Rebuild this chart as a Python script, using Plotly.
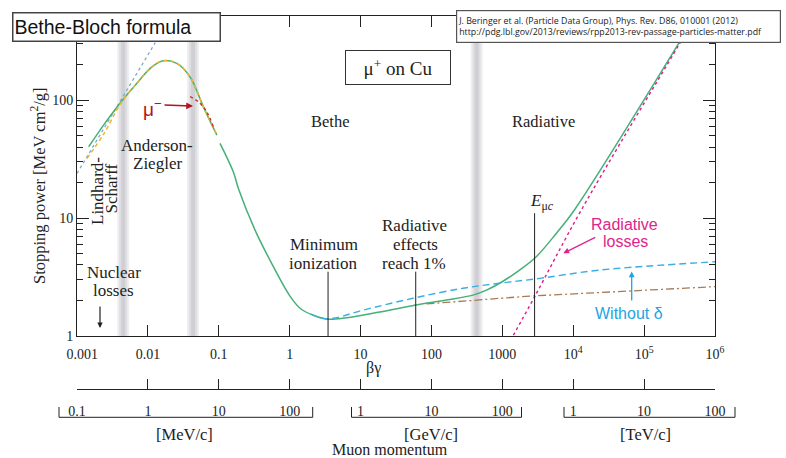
import plotly.graph_objects as go
import math

# ---------------- data ----------------
# total stopping power (green solid), low-energy segment and Bethe/radiative segment
total_lo_bg = [0.00146, 0.00237, 0.00288, 0.0041, 0.007, 0.0108, 0.0159, 0.0256, 0.0394, 0.0607, 0.094]
total_lo_S = [40.2, 61.4, 72, 95, 139, 186, 215, 205, 157, 87.7, 50.5]
total_hi_bg = [0.104, 0.161, 0.189, 0.325, 0.557, 1.0, 1.4, 2.15, 3.4, 6.35, 18.7, 60, 163,
               385, 596, 916, 1750, 3010, 5760, 10400, 297000, 600000]
total_hi_S = [43, 24.5, 17.8, 7.9, 4.13, 2.2, 1.72, 1.5, 1.39, 1.43, 1.6, 1.83, 2.02,
              2.22, 2.45, 2.8, 3.62, 4.7, 7.4, 11.7, 292, 590]
# Anderson-Ziegler (orange dashed)
az_bg = [0.00138, 0.0024, 0.0041, 0.007, 0.0108, 0.0159, 0.0256, 0.0394, 0.0607, 0.094]
az_S = [32, 52, 93, 139, 186, 215, 205, 157, 87.7, 50.5]
# mu- (red dotted)
mum_bg = [0.0394, 0.0516, 0.0677, 0.0838]
mum_S = [107, 96.8, 79.6, 59.4]
# Lindhard-Scharff (blue dotted)
ls_bg = [0.001, 0.0127]
ls_S = [23.9, 307]
# without delta (light blue dashed)
nod_bg = [2.0, 3.5, 10.9, 55, 279, 916, 3360, 23400, 1e6]
nod_S = [1.53, 1.40, 1.66, 2.09, 2.54, 2.80, 3.08, 3.62, 4.26]
# ionization part above radiative-1% (brown dash-dot)
ion_bg = [85, 2430, 1e6]
ion_S = [1.87, 2.18, 2.62]
# radiative losses (magenta dotted)
rad_bg = [1300, 2850, 13000, 300000, 600000]
rad_S = [0.915, 2.15, 11.7, 285, 580]
# vertical marker lines: minimum ionization, radiative effects 1%, E_muc
marker_bg = [3.48, 60, 2850]
marker_top = [3.51, 3.51, 11.0]
# gray boundary bands
band_bg = [0.00449, 0.0434, 434]

bg_ticks = [1e-3, 1e-2, 1e-1, 1, 10, 100, 1000, 1e4, 1e5, 1e6]
bg_ticktext = ["\u00a0\u00a0\u00a00.001", "0.01", "0.1", "1", "10", "100", "1000",
               "10<sup>4</sup>", "10<sup>5</sup>", "10<sup>6</sup>"]
p_ticktext = ["0.1", "1", "10", "100", "1", "10", "100", "1", "10", "100"]
S_ticks = [1, 10, 100]
S_ticktext = ["1", "10", "100"]
S_minor = [k * 10 ** d for d in range(0, 3) for k in range(2, 10) if k * 10 ** d < 515]

# ---------------- geometry ----------------
W, H = 786, 458
ML, MR, MT, MB = 77, 71, 16, 69
PW = W - ML - MR
PH = H - MT - MB
Y0PX = 336
ydom0 = (H - MB - Y0PX) / PH
YLOGMAX = 2.713

def px(x):
    return (x - ML) / PW

def py(y):
    return (H - MB - y) / PH

SERIF = "Liberation Serif"
SANS = "Liberation Sans"
INK = "#222222"
GREEN = "#45b078"

fig = go.Figure()

def line(x, y, color, width=1.4, dash="solid", shape="spline"):
    fig.add_trace(go.Scatter(x=x, y=y, mode="lines", showlegend=False, hoverinfo="skip",
                             line=dict(color=color, width=width, dash=dash, shape=shape)))

line(ls_bg, ls_S, "#7fa9c8", 1.3, "dot", "linear")
line(total_lo_bg, total_lo_S, GREEN, 1.5)
line(total_hi_bg, total_hi_S, GREEN, 1.5)
line(az_bg, az_S, "#e9b52c", 1.5, "4px,3px")
line(mum_bg, mum_S, "#c0392b", 1.4, "dot")
line(nod_bg, nod_S, "#3aaee2", 1.4, "7px,4px")
line(ion_bg, ion_S, "#a87a55", 1.3, "8px,3px,2px,3px", "linear")
line(rad_bg, rad_S, "#e5198a", 1.4, "dot")

for xb, yt in zip(marker_bg, marker_top):
    fig.add_trace(go.Scatter(x=[xb, xb], y=[1, yt], mode="lines", showlegend=False,
                             hoverinfo="skip", line=dict(color=INK, width=1)))

# invisible traces so the momentum axis and minor-tick axis are built
fig.add_trace(go.Scatter(x=[1], y=[1], xaxis="x2", yaxis="y", mode="markers",
                         marker=dict(opacity=0), showlegend=False, hoverinfo="skip"))
fig.add_trace(go.Scatter(x=[1], y=[1], xaxis="x", yaxis="y2", mode="markers",
                         marker=dict(opacity=0), showlegend=False, hoverinfo="skip"))

shapes = []
for b in band_bg:
    xc = (math.log10(b) + 3) / 9
    for hw, col in [(6, "#eeeef0"), (4, "#dfdfe3"), (2, "#cfcfd4")]:
        shapes.append(dict(type="rect", xref="paper", yref="paper",
                           x0=xc - hw / PW, x1=xc + hw / PW, y0=ydom0, y1=1,
                           fillcolor=col, line=dict(width=0), layer="below"))

# momentum brackets
for xl, xr in [(59, 312.7), (351.5, 521.5), (564, 735)]:
    shapes.append(dict(type="path", xref="paper", yref="paper",
                       path=f"M {px(xl)},{py(407)} L {px(xl)},{py(417.3)} L {px(xr)},{py(417.3)} L {px(xr)},{py(407)}",
                       line=dict(color=INK, width=1)))

ann = []

def text(t, x, y, size=17, color=INK, family=SERIF, **kw):
    d = dict(text=t, x=px(x), y=py(y), xref="paper", yref="paper", showarrow=False,
             font=dict(size=size, color=color, family=family), xanchor="center", yanchor="middle")
    d.update(kw)
    ann.append(d)

def arrow(x0, y0, x1, y1, color, width=1.3, size=1.0):
    ann.append(dict(text="", x=px(x1), y=py(y1), xref="paper", yref="paper",
                    ax=x0 - x1, ay=y0 - y1, showarrow=True, arrowhead=2,
                    arrowsize=size, arrowwidth=width, arrowcolor=color))

text("Bethe", 330, 122, 16.5)
text("Radiative", 543, 122, 16.5)
text("Anderson-", 157, 145)
text("Ziegler", 157, 163)
text("Lindhard-", 97, 191, textangle=-90)
text("Scharff", 110.5, 189, textangle=-90)
text("Nuclear", 113.7, 272)
text("losses", 113.3, 290)
text("Minimum", 323.5, 244)
text("ionization", 323, 263)
text("Radiative", 414, 226)
text("effects", 415.5, 244)
text("reach 1%", 414, 263)
text("<i>E</i><sub>μ<i>c</i></sub>", 541.5, 202, 17)
text("Radiative", 624.5, 225, 16, "#e0248c", SANS)
text("losses", 625, 242, 16, "#e0248c", SANS)
text("Without δ", 629, 313, 16, "#1ea5e0", SANS)
text("μ<sup>−</sup>", 152, 108, 19, "#b3141c", SANS)
text("βγ", 373, 368, 16)
text("[MeV/c]", 184, 434, 16.5)
text("[GeV/c]", 431, 434, 16.5)
text("[TeV/c]", 645, 434, 16.5)
text("Muon momentum", 390, 449, 16)
text("Stopping power [MeV cm<sup>2</sup>/g]", 38, 186, 16.5, textangle=-90)

arrow(163, 105, 193, 106, "#b3141c", 1.5, 0.9)
arrow(596.7, 236.7, 563.3, 253.3, "#e0248c", 1.3, 0.9)
arrow(631.7, 302, 631.7, 271.5, "#1ea5e0", 1.3, 0.9)
arrow(100, 305, 100, 328, INK, 1.2, 0.9)

# boxes
ann.append(dict(text="Bethe-Bloch formula", x=px(12), y=py(12), xref="paper", yref="paper",
                showarrow=False, xanchor="left", yanchor="top", align="left",
                width=204, height=25, borderpad=1, borderwidth=1.5, bordercolor="#444",
                bgcolor="white", font=dict(size=19.5, family=SANS, color="#111")))
ann.append(dict(text="J. Beringer et al. (Particle Data Group), Phys. Rev. D86, 010001 (2012)<br>"
                     "http://pdg.lbl.gov/2013/reviews/rpp2013-rev-passage-particles-matter.pdf",
                x=px(456), y=py(10), xref="paper", yref="paper",
                showarrow=False, xanchor="left", yanchor="top", align="left",
                width=321, height=29, borderpad=1, borderwidth=1.2, bordercolor="#555",
                bgcolor="white", font=dict(size=8.8, family="Open Sans", color="#222")))
ann.append(dict(text="μ<sup>+</sup> on Cu", x=px(345), y=py(50), xref="paper", yref="paper",
                showarrow=False, xanchor="left", yanchor="top", align="center",
                width=102, height=31, borderpad=1, borderwidth=1, bordercolor="#333",
                bgcolor="white", font=dict(size=19, family=SERIF, color=INK)))

axis_common = dict(showgrid=False, zeroline=False, showline=True, linecolor=INK, linewidth=1,
                   tickcolor=INK, tickwidth=1, automargin=False,
                   tickfont=dict(family=SERIF, size=14, color=INK))

fig.update_layout(
    width=W, height=H,
    margin=dict(l=ML, r=MR, t=MT, b=MB, pad=0, autoexpand=False),
    paper_bgcolor="white", plot_bgcolor="white",
    showlegend=False,
    shapes=shapes, annotations=ann,
    xaxis=dict(type="log", range=[-3, 6], domain=[0, 1], anchor="y",
               tickmode="array", tickvals=bg_ticks, ticktext=bg_ticktext,
               ticks="inside", ticklen=11, mirror="ticks", ticklabelstandoff=5, **axis_common),
    yaxis=dict(type="log", range=[0, YLOGMAX], domain=[ydom0, 1], anchor="x",
               tickmode="array", tickvals=S_ticks, ticktext=S_ticktext,
               ticks="inside", ticklen=12, mirror="ticks", **axis_common),
    yaxis2=dict(type="log", range=[0, YLOGMAX], overlaying="y", anchor="x", side="left",
                tickmode="array", tickvals=S_minor, showticklabels=False,
                ticks="inside", ticklen=6, mirror="ticks", **axis_common),
    xaxis2=dict(type="log", range=[-3, 6], overlaying="x", anchor="free", position=0,
                side="bottom", tickmode="array", tickvals=bg_ticks, ticktext=p_ticktext,
                ticks="inside", ticklen=10, ticklabelstandoff=9, **axis_common),
)

fig.write_html("out.html", config={"displayModeBar": False},
               post_script="document.body.style.margin='0px';document.body.style.padding='0px';")
